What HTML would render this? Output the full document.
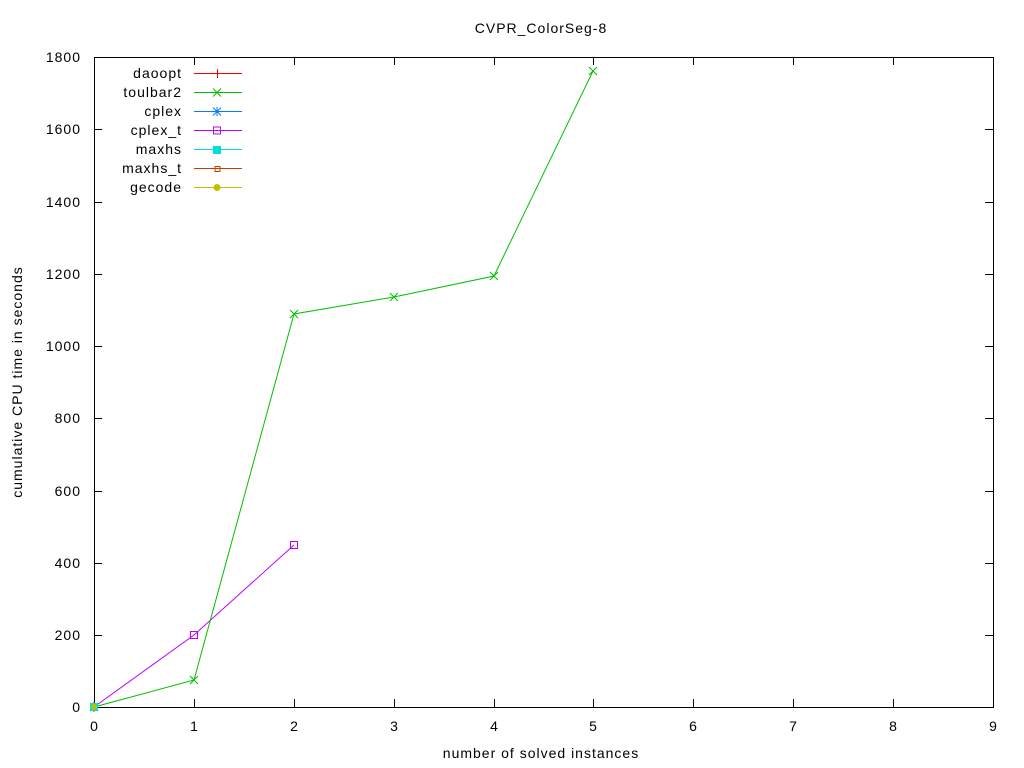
<!DOCTYPE html>
<html><head><meta charset="utf-8"><style>
html,body{margin:0;padding:0;background:#fff;}
svg{display:block;}
text{font-family:"Liberation Sans",Arial,sans-serif;font-size:14px;fill:#000;letter-spacing:1px;}
</style></head><body>
<svg width="1024" height="768" viewBox="0 0 1024 768" xmlns="http://www.w3.org/2000/svg">
<rect width="1024" height="768" fill="#fff"/>
<text x="541" y="33" text-anchor="middle">CVPR_ColorSeg-8</text>
<g stroke="#000" stroke-width="1" fill="none" shape-rendering="crispEdges">
<rect x="94.5" y="57.5" width="899" height="650"/>
<path d="M94 635.5h8M94 563.5h8M94 491.5h8M94 418.5h8M94 346.5h8M94 274.5h8M94 202.5h8M94 129.5h8
M993 635.5h-8M993 563.5h-8M993 491.5h-8M993 418.5h-8M993 346.5h-8M993 274.5h-8M993 202.5h-8M993 129.5h-8"/>
<path d="M194.5 707v-8M294.5 707v-8M394.5 707v-8M494.5 707v-8M593.5 707v-8M693.5 707v-8M793.5 707v-8M893.5 707v-8
M194.5 57v8M294.5 57v8M394.5 57v8M494.5 57v8M593.5 57v8M693.5 57v8M793.5 57v8M893.5 57v8"/>
</g>
<g text-anchor="end">
<text x="81" y="712">0</text>
<text x="81" y="640">200</text>
<text x="81" y="568">400</text>
<text x="81" y="496">600</text>
<text x="81" y="423">800</text>
<text x="81" y="351">1000</text>
<text x="81" y="279">1200</text>
<text x="81" y="207">1400</text>
<text x="81" y="134">1600</text>
<text x="81" y="62">1800</text>
</g>
<g text-anchor="middle">
<text x="94.5" y="731">0</text>
<text x="194.5" y="731">1</text>
<text x="294.5" y="731">2</text>
<text x="394.5" y="731">3</text>
<text x="494.5" y="731">4</text>
<text x="593.5" y="731">5</text>
<text x="693.5" y="731">6</text>
<text x="793.5" y="731">7</text>
<text x="893.5" y="731">8</text>
<text x="993.5" y="731">9</text>
</g>
<text x="541" y="758" text-anchor="middle">number of solved instances</text>
<text transform="translate(22,382) rotate(-90)" text-anchor="middle">cumulative CPU time in seconds</text>

<g text-anchor="end">
<text x="182" y="78">daoopt</text>
<text x="182" y="97">toulbar2</text>
<text x="182" y="116">cplex</text>
<text x="182" y="135">cplex_t</text>
<text x="182" y="154">maxhs</text>
<text x="182" y="173">maxhs_t</text>
<text x="182" y="192">gecode</text>
</g>
<g stroke-width="1" fill="none">
<path d="M194 73.5h48" stroke="#ff0000" shape-rendering="crispEdges"/>
<path d="M217.5 69v9" stroke="#ff0000" shape-rendering="crispEdges"/>
<path d="M194 92.5h48" stroke="#00c000" shape-rendering="crispEdges"/>
<path d="M213 88.5l8 8M213 96.5l8-8" stroke="#00c000"/>
<path d="M194 111.5h48" stroke="#0080ff" shape-rendering="crispEdges"/>
<path d="M213 107.5l8 8M213 115.5l8-8M217 107v9M212.5 111.5h9" stroke="#0080ff"/>
<path d="M194 130.5h48" stroke="#c000ff" shape-rendering="crispEdges"/>
<rect x="213.5" y="127" width="7" height="7" stroke="#c000ff"/>
<path d="M194 149.5h48" stroke="#00dddd" shape-rendering="crispEdges"/>
<rect x="213" y="146" width="8" height="8" fill="#00dddd" stroke="none"/>
<path d="M194 168.5h48" stroke="#c04000" shape-rendering="crispEdges"/>
<rect x="215" y="166.5" width="5" height="5" stroke="#c04000"/>
<path d="M194 187.5h48" stroke="#c0c000" shape-rendering="crispEdges"/>
<circle cx="217" cy="187.5" r="3.5" fill="#c0c000" stroke="none"/>
</g>

<g fill="none" stroke-width="1">
<polyline points="94,707 194,635 294,545" stroke="#c000ff"/>
<rect x="190.5" y="631.5" width="7" height="7" stroke="#c000ff"/>
<rect x="290.5" y="541.5" width="7" height="7" stroke="#c000ff"/>
<polyline points="94,707 194,680 294,314 394,297 494,276 593,71" stroke="#00c000"/>
<path d="M190 676l8 8M190 684l8-8 M290 310l8 8M290 318l8-8 M390 293l8 8M390 301l8-8 M490 272l8 8M490 280l8-8 M589 67l8 8M589 75l8-8 M90 703l8 8M90 711l8-8" stroke="#00c000"/>
<path d="M94 702v10" stroke="#ff0000"/>
<rect x="90" y="703" width="8" height="8" fill="#00dddd" stroke="none"/>
<circle cx="94" cy="707" r="3" fill="#c0c000" stroke="none"/>
</g>
</svg>
</body></html>
